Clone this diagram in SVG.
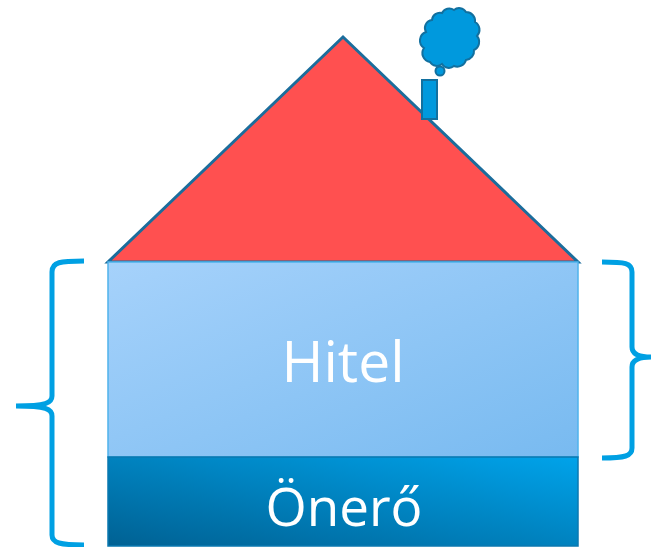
<svg xmlns="http://www.w3.org/2000/svg" width="651" height="547" viewBox="0 0 651 547">
<style>
.brace{fill:none;stroke:#00A0E3;stroke-width:5;stroke-linecap:butt}
.lbl{font-family:"Open Sans","Noto Sans",sans-serif;fill:#FFFFFF;text-anchor:middle}
</style>
<defs>
<linearGradient id="gHitel" x1="0" y1="0" x2="1" y2="1">
<stop offset="0" stop-color="#A6D2FB"/>
<stop offset="1" stop-color="#78BAF0"/>
</linearGradient>
<linearGradient id="gOnero" x1="1" y1="0" x2="0" y2="1">
<stop offset="0" stop-color="#00A3EA"/>
<stop offset="1" stop-color="#006193"/>
</linearGradient>
</defs>
<g id="roof">
<polygon points="343,37 108,262 578,262" fill="#FF5050" stroke="#1B6D9C" stroke-width="3" stroke-linejoin="miter"/>
</g>
<g id="chimney">
<rect x="422" y="80" width="15" height="39" fill="#0099DD" stroke="#12709F" stroke-width="2"/>
</g>
<g id="smoke">
<circle cx="440" cy="71" r="4.5" fill="#0099DD" stroke="#12709F" stroke-width="2"/>
<path d="M430,62 A9,9 0 0 1 424,48 A9,9 0 0 1 426,32 A8,8 0 0 1 432,20 A8,8 0 0 1 442,13 A8,8 0 0 1 454,10 A8,8 0 0 1 466,12 A9,9 0 0 1 475,22 A9,9 0 0 1 477,36 A9,9 0 0 1 474,50 A9,9 0 0 1 466,60 A9,9 0 0 1 454,66 A8,8 0 0 1 442,64 A8,8 0 0 1 430,62 Z" fill="#0099DD" stroke="#12709F" stroke-width="2"/>
</g>
<g id="hitel">
<rect x="108" y="262" width="470" height="195" fill="url(#gHitel)" stroke="#4FB3EC" stroke-width="1.5"/>
<text class="lbl" x="343" y="382" font-size="57">Hitel</text>
</g>
<g id="onero">
<rect x="108" y="457" width="470" height="89" fill="url(#gOnero)" stroke="#0A78B0" stroke-width="1.5"/>
<text class="lbl" x="344" y="526" font-size="53">Önerő</text>
</g>
<g id="connectors">
<path class="brace" d="M84,261 C60,261 52,262 52,272 L52,396 C52,403 46,406 16,406 C46,406 52,409 52,416 L52,535 C52,543 60,545 84,545"/>
<path class="brace" d="M602,262 C625,262 632,263 632,272 L632,347 C632,354 638,357 651,357 C638,357 632,360 632,367 L632,448 C632,456 625,458 602,458"/>
</g>
</svg>
